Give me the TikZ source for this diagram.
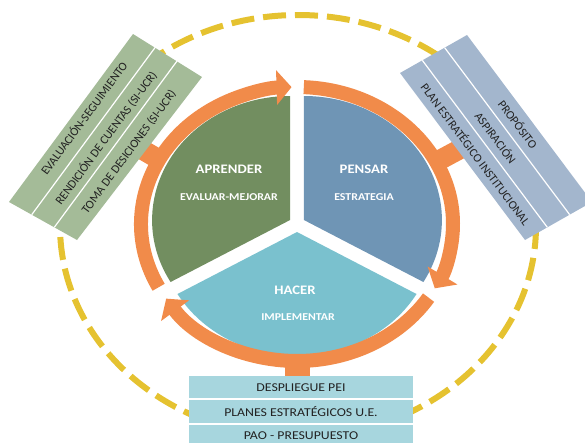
\documentclass[tikz,border=0pt]{standalone}
\usepackage{fontspec}
\setmainfont{Carlito}
\usetikzlibrary{arrows.meta}
\definecolor{segGreen}{HTML}{728E60}
\definecolor{segBlue}{HTML}{6F95B5}
\definecolor{segCyan}{HTML}{7AC1CE}
\definecolor{ringOrange}{HTML}{F18B4A}
\definecolor{dashYellow}{HTML}{E5C230}
\definecolor{boxGreen}{HTML}{A4BB98}
\definecolor{boxBlue}{HTML}{A3B6CD}
\definecolor{boxCyan}{HTML}{A7D6DE}
\definecolor{txtDark}{HTML}{222222}
\tikzset{
  ringarc/.style={ringOrange, line width=14pt, -{Triangle[width=34pt,length=15pt]}},
  stub/.style={ringOrange, line width=#1},
  sep/.style={white, line width=1.2pt},
  segtitle/.style={text=white, font=\fontsize{13}{15}\selectfont\bfseries, inner sep=0pt, xscale=1.13},
  segsub/.style={text=white, font=\fontsize{10.5}{12}\selectfont\bfseries, inner sep=0pt, xscale=1.13},
  boxtxt/.style={text=txtDark, font=\fontsize{12}{14}\selectfont, inner sep=0pt, xscale=1.15},
  rottxt/.style={text=txtDark, font=\fontsize{12}{14}\selectfont, inner sep=0pt},
}
\begin{document}
\begin{tikzpicture}[x=1pt,y=-1pt]
\useasboundingbox (0,0) rectangle (585,442);
\clip (0,0) rectangle (585,442);
\coordinate (C) at (297,224);
\coordinate (E) at (298,226);
% dashed ellipse
\draw[dashYellow, line width=6pt, dash pattern=on 23pt off 9pt] (E) ellipse [x radius=238, y radius=211];
% stubs
\coordinate (s1a) at (136,146); \coordinate (s1b) at (160,160);
\coordinate (s2a) at (462,148); \coordinate (s2b) at (436,162);
\coordinate (s3a) at (297.5,358); \coordinate (s3b) at (297.5,382);
\draw[stub=20pt] (s1a) -- (s1b);
\draw[stub=20pt] (s2a) -- (s2b);
\draw[stub=25pt] (s3a) -- (s3b);
% sectors
\coordinate (G0) at (290.1,220);
\coordinate (B0) at (303.9,220);
\coordinate (H0) at (297,232);
\fill[segGreen] (G0) -- ++(150:138 and 124) arc[start angle=150, end angle=270, x radius=138, y radius=124] -- cycle;
\fill[segBlue] (B0) -- ++(270:138 and 124) arc[start angle=270, end angle=390, x radius=138, y radius=124] -- cycle;
\fill[segCyan] (H0) -- ++(30:138 and 124) arc[start angle=30, end angle=150, x radius=138, y radius=124] -- cycle;
% ring
\draw[ringarc] (C) ++(152.5:156 and 137) arc[start angle=152.5, end angle=268, x radius=156, y radius=137];
\draw[ringarc] (C) ++(272.5:156 and 137) arc[start angle=272.5, end angle=388, x radius=156, y radius=137];
\draw[ringarc] (C) ++(32.5:156 and 137) arc[start angle=32.5, end angle=147, x radius=156, y radius=137];
% segment texts
\node[segtitle] (apr) at (229,169) {APRENDER};
\node[segsub] (evm) at (229,197) {EVALUAR-MEJORAR};
\node[segtitle] (pen) at (364,169) {PENSAR};
\node[segsub] (est) at (364,197) {ESTRATEGIA};
\node[segtitle] (hac) at (295,290) {HACER};
\node[segsub] (imp) at (298,317) {IMPLEMENTAR};
% green box
\coordinate (gA) at (9,202); \coordinate (gB) at (133,34);
\coordinate (gC) at (202,77); \coordinate (gD) at (77,240);
\fill[boxGreen] (gA) -- (gB) -- (gC) -- (gD) -- cycle;
\draw[sep] (31.7,214.7) -- (155.7,46.7);
\draw[sep] (54.3,227.3) -- (178.3,59.3);
\node[rottxt, rotate=53.6] (g1) at (83.5,118) {EVALUACIÓN-SEGUIMIENTO};
\node[rottxt, rotate=53.6] (g2) at (106,138) {RENDICIÓN DE CUENTAS (SI-UCR)};
\node[rottxt, rotate=53.6] (g3) at (129,152) {TOMA DE DESICIONES (SI-UCR)};
% blue box
\coordinate (bL) at (400,73); \coordinate (bT) at (467,35);
\coordinate (bR) at (592,202); \coordinate (bM) at (525,240);
\fill[boxBlue] (bL) -- (bT) -- (bR) -- (bM) -- cycle;
\draw[sep] (422.3,60.3) -- (547.3,227.3);
\draw[sep] (444.7,47.7) -- (569.7,214.7);
\node[rottxt, rotate=-53.2] (b1) at (476,154) {PLAN ESTRATÉGICO INSTITUCIONAL};
\node[rottxt, rotate=-53.2] (b2) at (496,137.5) {ASPIRACIÓN};
\node[rottxt, rotate=-53.2] (b3) at (518.3,124) {PROPÓSITO};
% bottom box
\fill[boxCyan] (189,376) rectangle (413,450);
\draw[sep] (189,399) -- (413,399);
\draw[sep] (189,424) -- (413,424);
\node[boxtxt] (d1) at (301,388) {DESPLIEGUE PEI};
\node[boxtxt] (d2) at (301,412) {PLANES ESTRATÉGICOS U.E.};
\node[boxtxt] (d3) at (301,436) {PAO - PRESUPUESTO};
\end{tikzpicture}
\end{document}
